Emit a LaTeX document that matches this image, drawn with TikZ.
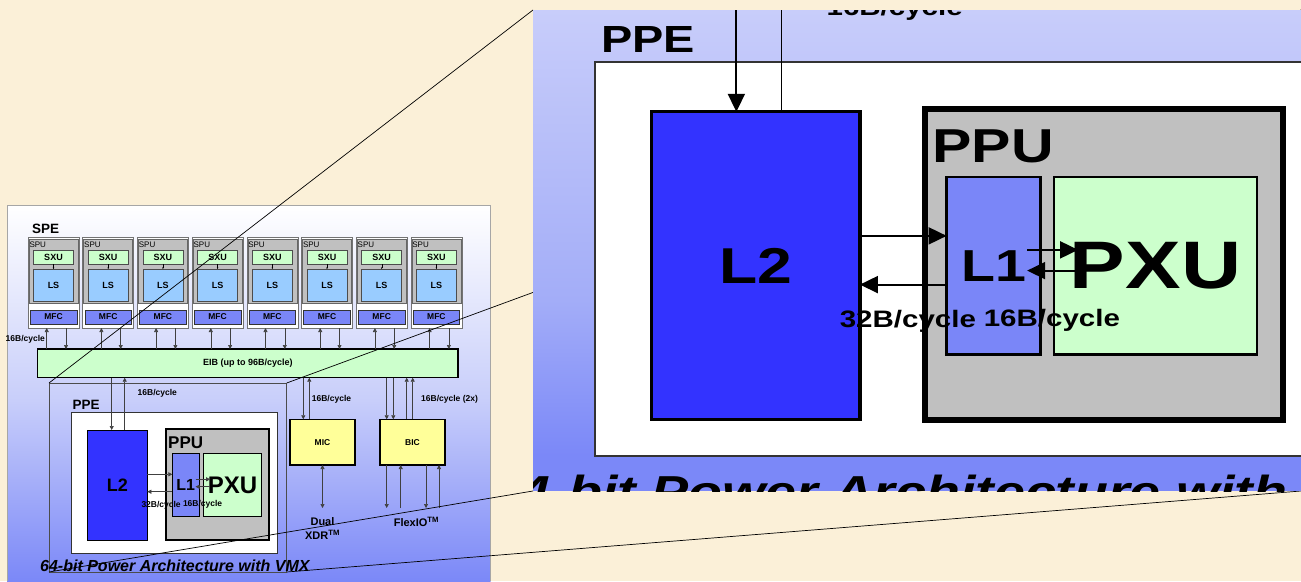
\documentclass[tikz,border=0pt]{standalone}
\usepackage{fontspec}
\setmainfont{Liberation Sans}
\usetikzlibrary{arrows.meta,calc}

\definecolor{paper}{RGB}{251,240,216}
\definecolor{panelmid}{RGB}{200,206,250}
\definecolor{panelblue}{RGB}{123,136,248}
\definecolor{insettop}{RGB}{200,205,250}
\definecolor{insetmid}{RGB}{163,173,248}
\definecolor{spugray}{RGB}{192,192,192}
\definecolor{sxugreen}{RGB}{204,255,204}
\definecolor{lsblue}{RGB}{153,204,255}
\definecolor{mfcblue}{RGB}{122,134,248}
\definecolor{l2blue}{RGB}{51,51,255}
\definecolor{ioyellow}{RGB}{255,255,153}

\tikzset{
  box/.style={draw, inner sep=0pt, outer sep=0pt},
  speunit/.style={box, fill=white, draw=black!55, line width=0.6pt, minimum width=51pt, minimum height=91pt},
  spubox/.style={box, fill=spugray, draw=black!60, line width=0.6pt, minimum width=49pt, minimum height=63.5pt},
  sxubox/.style={box, fill=sxugreen, draw=black!70, line width=0.5pt, minimum width=40pt, minimum height=14pt, font=\bfseries\fontsize{9}{9}\selectfont},
  lsbox/.style={box, fill=lsblue, draw=black!70, line width=0.5pt, minimum width=40pt, minimum height=32pt, font=\bfseries\fontsize{9}{9}\selectfont},
  mfcbox/.style={box, fill=mfcblue, draw=black!80, line width=0.6pt, minimum width=46.6pt, minimum height=14pt, font=\bfseries\fontsize{8.5}{8.5}\selectfont},
  iobox/.style={box, fill=ioyellow, line width=1.2pt, minimum width=65pt, minimum height=45.7pt, font=\bfseries\fontsize{8.5}{8.5}\selectfont},
  whitebox/.style={box, fill=white, draw=black!80, line width=0.5pt},
  l2box/.style={box, fill=l2blue, line width=1pt, font=\bfseries\fontsize{18}{18}\selectfont},
  ppubox/.style={box, fill=spugray, line width=1.8pt},
  l1box/.style={box, fill=mfcblue, line width=0.8pt, font=\bfseries\fontsize{16}{16}\selectfont},
  pxubox/.style={box, fill=sxugreen, line width=0.8pt, font=\bfseries\fontsize{24}{24}\selectfont},
  cyc/.style={anchor=base west, inner sep=0pt, font=\bfseries\fontsize{8.5}{8.5}\selectfont},
  arr/.style={line width=0.6pt, draw=black!75, -{Triangle[length=4pt,width=4pt]}},
  arr2/.style={line width=0.6pt, draw=black!75, {Triangle[length=4pt,width=4pt]}-{Triangle[length=4pt,width=4pt]}},
  tinyarr/.style={line width=0.3pt, -{Triangle[length=1.5pt,width=1.5pt]}},
  zoomline/.style={line width=0.7pt, black}
}

% PPE block, drawn once in place and once blown up in the inset
\newcommand{\ppeblock}{%
  \node[whitebox, minimum width=206pt, minimum height=140.7pt] (pwhite) at (174,482.65) {};
  \node[anchor=base west, inner sep=0pt, font=\bfseries\fontsize{13.5}{14}\selectfont] (ppelbl) at (72.5,409) {PPE};
  \node[l2box, minimum width=60pt, minimum height=110pt] (l2) at (117.3,485) {L2};
  \node[ppubox, minimum width=103.3pt, minimum height=111pt] (ppu) at (217.65,484.5) {};
  \node[anchor=base west, inner sep=0pt, font=\bfseries\fontsize{17}{17}\selectfont] (ppulbl) at (168,448) {PPU};
  \node[l1box, minimum width=27pt, minimum height=63.4pt] (l1) at (185.8,485) {L1};
  \node[pxubox, minimum width=58.4pt, minimum height=63.4pt] (pxu) at (232.5,485) {PXU};
  \coordinate (ppein) at (111.7,377.7);
  \coordinate (ppeout) at (124.7,377.7);
  \draw[arr] (ppein) -- (ppein |- l2.north);
  \draw[arr] (ppeout |- l2.north) -- (ppeout);
  \node[cyc] (ppecyc) at (137.5,395.7) {16B/cycle};
  \coordinate (busa) at (150,474.3);
  \coordinate (busb) at (150,491.7);
  \draw[arr] (l2.east |- busa) -- (l1.west |- busa);
  \draw[arr] (l1.west |- busb) -- (l2.east |- busb);
  \coordinate (lxa) at (195.5,479.3);
  \coordinate (lxb) at (210.2,486.7);
  \draw[arr] (lxa) -- (lxa -| lxb);
  \draw[arr] (lxb) -- (lxb -| lxa);
  \node[cyc] (l2cyc) at (141.3,507) {32B/cycle};
  \node[cyc] (l1cyc) at (182.8,506.8) {16B/cycle};
  \node[anchor=base west, inner sep=0pt, font=\bfseries\itshape\fontsize{16}{16}\selectfont] (arch) at (40,571.5) {64-bit Power Architecture with VMX};
}

\begin{document}
\begin{tikzpicture}[x=1pt, y=-1pt]
\useasboundingbox (0,0) rectangle (1301,581);
\fill[paper] (0,0) rectangle (1301,581);

% chip panel
\shade[top color=white, bottom color=panelmid] (7,205) rectangle (490.7,400);
\shade[top color=panelmid, bottom color=panelblue] (7,400) rectangle (490.7,581);
\draw[black!35, line width=0.6pt] (7,581) -- (7,205) -- (490.7,205) -- (490.7,581);
\node[anchor=base west, inner sep=0pt, font=\bfseries\fontsize{13.5}{14}\selectfont] (spelbl) at (32,233) {SPE};

\node[box, fill=sxugreen, line width=1.2pt, minimum width=420.3pt, minimum height=28.7pt,
  font=\bfseries\fontsize{9}{9}\selectfont] (eib) at (247.85,363.35) {EIB (up to 96B/cycle)};

\foreach \i in {0,...,7}{
  \pgfmathsetmacro\cx{53.5+54.7*\i}
  \node[speunit] (spe\i) at (\cx,282.5) {};
  \node[spubox] (spu\i) at (\cx,271.25) {};
  \node[anchor=base west, inner sep=0pt, font=\fontsize{8}{8}\selectfont] (spul\i) at (\cx-24.2,247.7) {SPU};
  \node[sxubox] (sxu\i) at (\cx,257) {SXU};
  \node[lsbox] (ls\i) at (\cx,285) {LS};
  \node[mfcbox] (mfc\i) at (\cx,317) {MFC};
  \draw[tinyarr] (sxu\i) -- (ls\i);
  \draw[arr] ([xshift=-6.8pt]spe\i.south |- eib.north) -- ([xshift=-6.8pt]spe\i.south);
  \draw[arr] ([xshift=12.5pt]spe\i.south) -- ([xshift=12.5pt]spe\i.south |- eib.north);
}
\node[cyc] (specyc) at (5.5,341) {16B/cycle};

\node[box, draw=black!70, line width=0.7pt, minimum width=237.7pt, minimum height=189pt] (ppe) at (167.85,477.5) {};
\ppeblock

% memory and I/O
\node[iobox] (mic) at (322.5,442.15) {MIC};
\node[iobox] (bic) at (412.5,442.15) {BIC};
\draw[arr] ([xshift=-19.2pt]mic.north |- eib.south) -- ([xshift=-19.2pt]mic.north);
\draw[arr] ([xshift=-13.2pt]mic.north) -- ([xshift=-13.2pt]mic.north |- eib.south);
\foreach \d in {-25.8,-19.2}
  \draw[arr] ([xshift=\d pt]bic.north |- eib.south) -- ([xshift=\d pt]bic.north);
\foreach \d in {-5.8,0.2}
  \draw[arr] ([xshift=\d pt]bic.north) -- ([xshift=\d pt]bic.north |- eib.south);
\node[cyc] (miccyc) at (311.7,401.5) {16B/cycle};
\node[cyc] (biccyc) at (421,401.5) {16B/cycle (2x)};

\coordinate (ioend) at (0,508);
\node[inner sep=0pt, align=center, font=\bfseries\fontsize{11}{13.7}\selectfont] (xdr) at (322.5,528.4) {Dual\\XDR\textsuperscript{TM}};
\node[inner sep=0pt, font=\bfseries\fontsize{11}{11}\selectfont] (flexio) at (416.4,521.5) {FlexIO\textsuperscript{TM}};
\draw[arr2] (mic.south) -- (mic.south |- ioend);
\foreach \d in {-25.8,13.5}
  \draw[arr] ([xshift=\d pt]bic.south) -- ([xshift=\d pt]bic.south |- ioend);
\foreach \d in {-11.8,26.5}
  \draw[arr] ([xshift=\d pt]bic.south |- ioend) -- ([xshift=\d pt]bic.south);

% zoom inset
\node[inner sep=0pt, outer sep=0pt, minimum width=768pt, minimum height=481pt] (inset) at (917,250.5) {};
\draw[zoomline] (ppe.north west) -- (inset.north west);
\draw[zoomline] (ppe.north east) -- (inset.north east);
\draw[zoomline] (ppe.south west) -- (inset.south west);
\draw[zoomline] (ppe.south east) -- (inset.south east);

\begin{scope}
  \clip (inset.south west) rectangle (inset.north east);
  \shade[top color=insettop, bottom color=insetmid] (533,10) rectangle (1301,300);
  \shade[top color=insetmid, bottom color=panelblue] (533,300) rectangle (1301,455);
  \fill[panelblue] (533,455) rectangle (1301,491);
  \begin{scope}[shift={(348.8,-1092.3)}, xscale=3.47, yscale=2.8, transform shape,
      whitebox/.append style={line width=1.5pt}, l2box/.append style={line width=3.2pt},
      ppubox/.append style={line width=6pt}, l1box/.append style={line width=2.4pt},
      pxubox/.append style={line width=2.4pt},
      arr/.append style={line width=1.8pt, draw=black, -{Triangle[length=18pt,width=17pt]}}]
    \ppeblock
  \end{scope}
\end{scope}
\end{tikzpicture}
\end{document}
